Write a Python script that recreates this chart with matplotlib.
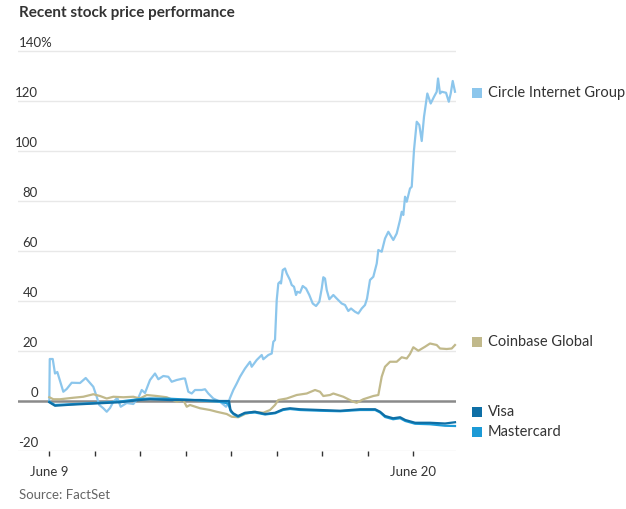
import matplotlib
matplotlib.use("Agg")
import matplotlib.pyplot as plt
from matplotlib.patches import Rectangle
from matplotlib import transforms

plt.rcParams['font.family'] = ['Lato', 'DejaVu Sans']

# x = trading days since June 9 open (June 19 market holiday skipped)
circle_x = [0.0, 0.01, 0.075, 0.125, 0.176, 0.308, 0.382, 0.492, 0.675, 0.8, 0.895, 0.967,
            1.042, 1.099, 1.187, 1.262, 1.334, 1.407, 1.495, 1.569, 1.701, 1.846, 1.956,
            2.031, 2.103, 2.213, 2.323, 2.396, 2.505, 2.615, 2.69, 2.8, 2.945, 2.982,
            3.055, 3.13, 3.202, 3.349, 3.422, 3.495, 3.604, 3.752, 3.884, 3.934, 3.971,
            4.044, 4.119, 4.191, 4.301, 4.411, 4.448, 4.558, 4.668, 4.703, 4.813, 4.888,
            4.923, 4.96, 4.998, 5.033, 5.07, 5.092, 5.13, 5.18, 5.218, 5.29, 5.327, 5.378,
            5.422, 5.451, 5.51, 5.569, 5.642, 5.714, 5.789, 5.862, 5.934, 5.987, 6.022,
            6.059, 6.097, 6.154, 6.242, 6.316, 6.426, 6.499, 6.571, 6.631, 6.719, 6.791,
            6.866, 6.938, 6.983, 7.048, 7.121, 7.196, 7.231, 7.305, 7.378, 7.451, 7.56,
            7.635, 7.708, 7.745, 7.78, 7.818, 7.855, 7.927, 7.965, 8.015, 8.075, 8.132,
            8.185, 8.235, 8.308, 8.382, 8.455, 8.514, 8.543, 8.587, 8.624, 8.719, 8.78,
            8.822, 8.866, 8.916]
circle_y = [0, 16.8, 16.8, 11, 11.6, 3.7, 4.8, 7.3, 7.2, 9.2, 7.2, 5.7,
            1.7, -1.6, -2.9, -4.3, -2.8, -0.3, 1.2, -2.3, -0.8, -1.2, 1.2,
            4.4, 3.2, 8.4, 11, 8.7, 10, 9.7, 7.7, 8.4, 9.0, 9.0,
            3.7, 3.0, 4.4, 4.4, 4.7, 3.0, 1.0, -0.3, -2.3, -0.9, 1.2,
            4.4, 7.0, 9.7, 13, 15.7, 13.7, 16.4, 18.4, 16.7, 18.4, 19,
            23.7, 24.4, 40.4, 47, 47.7, 47, 52.4, 53, 51, 48.4, 46.4, 45.7,
            42.4, 43.7, 43.3, 46, 45, 42.4, 39, 38, 39.7, 45, 49.5,
            49, 44.4, 40.7, 42.4, 41, 39, 38.4, 36, 37, 35.7, 35,
            37, 38.4, 41, 48.4, 49.7, 55, 60.4, 59.7, 65, 67.7, 64.4,
            67, 72.4, 75.7, 74.4, 81.7, 79.7, 85, 85.7, 100.4, 111.7, 110.4,
            104, 113.7, 123, 119, 121.7, 123.7, 129, 123, 123.7, 123.3, 119.7,
            123, 128, 123.7]

coinbase_x = [0.0, 0.09, 0.235, 0.527, 0.747, 0.967, 1.114, 1.262, 1.407, 1.626, 1.846,
              1.993, 2.141, 2.36, 2.58, 2.8, 2.945, 3.02, 3.092, 3.312, 3.532, 3.679,
              3.899, 4.009, 4.154, 4.301, 4.484, 4.703, 4.851, 4.96, 5.033, 5.218, 5.437,
              5.657, 5.84, 5.949, 6.022, 6.169, 6.242, 6.462, 6.681, 6.756, 6.901, 7.121,
              7.231, 7.305, 7.378, 7.488, 7.635, 7.745, 7.855, 7.927, 8.0, 8.11, 8.257,
              8.367, 8.514, 8.587, 8.734, 8.844, 8.916]
coinbase_y = [1.5, 0.7, 0.7, 1.3, 1.7, 2.7, 2.0, 1.0, 1.7, 1.5, 1.7,
              1.0, 2.4, 2.0, 1.5, -0.3, 0.4, -2.3, -1.6, -2.9, -3.6, -4.3,
              -5.2, -6.3, -6.5, -5.2, -4.3, -4.7, -3.6, -1.6, 0.4, 1.0, 2.4,
              3.0, 4.4, 3.7, 2.0, 2.4, 3.0, 1.7, -0.3, -0.7, 0.7, 2.0,
              2.4, 9.7, 13.7, 15.7, 15.7, 17.5, 17.0, 18.8, 21.5, 20.1, 21.7,
              23.0, 22.4, 21.0, 20.8, 21.0, 22.4]

visa_x = [0.0, 0.125, 0.455, 1.114, 1.554, 1.993, 2.213, 2.652, 3.004, 3.312, 3.752,
          3.95, 3.982, 4.04, 4.147, 4.301, 4.523, 4.743, 4.963, 5.138, 5.29, 5.51,
          5.952, 6.392, 6.831, 7.161, 7.27, 7.38, 7.556, 7.71, 7.824, 8.04, 8.367,
          8.697, 8.916]
visa_y = [-0.5, -1.9, -1.5, -0.9, -0.5, 0.4, 0.7, 0.4, 0.4, 0.4, 0.0,
          0.0, -3.6, -4.9, -6.0, -4.7, -4.3, -5.2, -4.7, -3.3, -2.9, -3.3,
          -3.6, -3.9, -3.3, -3.3, -4.3, -6.0, -6.9, -6.5, -7.6, -8.7, -8.7,
          -9.0, -8.5]

mastercard_x = [0.0, 0.125, 0.455, 1.114, 1.554, 1.993, 2.213, 2.652, 3.004, 3.312, 3.752,
                3.93, 3.99, 4.05, 4.147, 4.301, 4.523, 4.743, 4.963, 5.138, 5.29, 5.51,
                5.952, 6.392, 6.831, 7.161, 7.27, 7.38, 7.556, 7.71, 7.824, 8.04, 8.367,
                8.697, 8.916]
mastercard_y = [-0.3, -1.6, -1.3, -0.7, -0.2, 0.8, 1.0, 0.9, 0.6, 0.2, -0.3,
                -1.0, -4.2, -5.3, -6.3, -4.9, -4.6, -5.4, -4.9, -3.6, -3.2, -3.6,
                -3.9, -4.1, -3.6, -3.6, -4.6, -6.4, -7.3, -6.9, -8.0, -9.1, -9.3,
                -9.9, -10.0]

series = [
    ("Circle Internet Group", circle_x, circle_y, "#8cc6ec", 1.6),
    ("Coinbase Global", coinbase_x, coinbase_y, "#c1b98b", 1.6),
    ("Mastercard", mastercard_x, mastercard_y, "#1c9ad6", 1.6),
    ("Visa", visa_x, visa_y, "#0e6fa6", 1.6),
]

tick_days = [0, 1, 2, 3, 4, 5, 6, 7, 8]
tick_labels = ["June 9", "", "", "", "", "", "", "", "June 20"]
y_ticks = [-20, 0, 20, 40, 60, 80, 100, 120, 140]

W, H = 626, 509
fig = plt.figure(figsize=(W / 100, H / 100), dpi=100)
ax = fig.add_axes([18 / W, (H - 451) / H, 438 / W, 405 / H])
ax.set_xlim(-0.688, 8.938)
ax.set_ylim(-20, 142)

for v in y_ticks:
    if v == 0:
        continue
    ax.axhline(v, color="#e8e8e8", lw=1.0, zorder=0)

for name, xs, ys, c, lw in series:
    ax.plot(xs, ys, color=c, lw=lw, solid_joinstyle="round", zorder=3, clip_on=False)

ax.axhline(0, color="#8a8a8a", lw=1.8, zorder=2)

for s in ax.spines.values():
    s.set_visible(False)
ax.set_yticks([])
ax.set_xticks(tick_days)
ax.set_xticklabels(tick_labels, fontsize=9.5, color="#333333")
ax.tick_params(axis="x", length=3.5, width=1.0, color="#333333", pad=7)

# y labels sit just above their gridlines, right-aligned; the top one carries the %
ytrans = transforms.offset_copy(ax.get_yaxis_transform(), fig=fig, y=2, units="dots")
for v in y_ticks:
    if v == y_ticks[-1]:
        ax.text(1 / 438, v, f"{v}%", transform=ytrans, ha="left", va="bottom",
                fontsize=9.5, color="#333333")
    else:
        ax.text(20 / 438, v, str(v), transform=ytrans, ha="right", va="bottom",
                fontsize=9.5, color="#333333")

fig.text(19 / W, 1 - 13 / H, "Recent stock price performance", fontsize=11,
         fontweight="bold", color="#333333", ha="left", va="center")
fig.text(19 / W, 1 - 495 / H, "Source: FactSet", fontsize=9.5, color="#666666",
         ha="left", va="center")

legend_rows = [("Circle Internet Group", "#8cc6ec", 93),
               ("Coinbase Global", "#c1b98b", 342),
               ("Visa", "#0e6fa6", 411.5),
               ("Mastercard", "#1c9ad6", 431.5)]
for label, c, yc in legend_rows:
    fig.add_artist(Rectangle((471.5 / W, 1 - (yc + 5) / H), 10 / W, 10 / H,
                             transform=fig.transFigure, color=c, lw=0))
    fig.text(488 / W, 1 - yc / H, label, fontsize=10.5, color="#333333",
             ha="left", va="center")

fig.savefig("out.png", dpi=100)
